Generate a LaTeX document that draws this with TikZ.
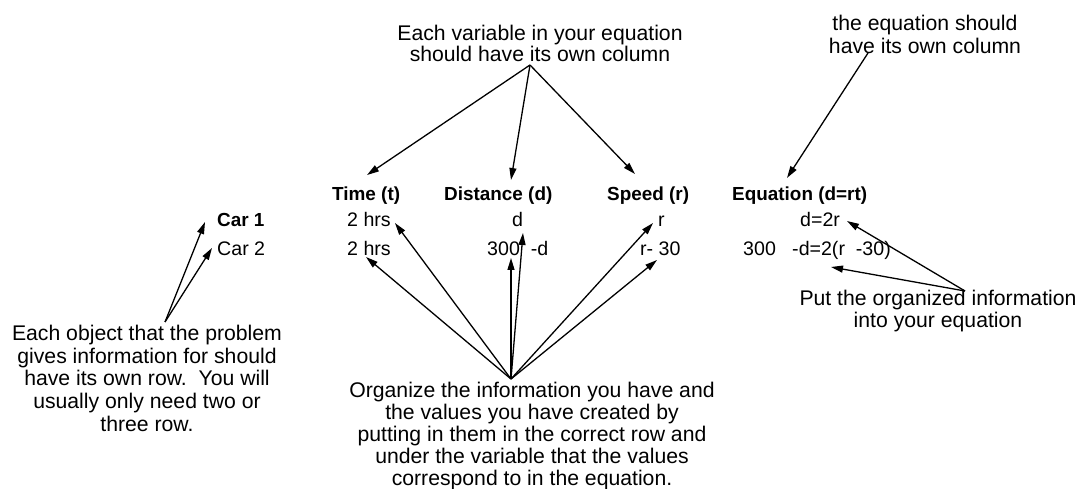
\documentclass[tikz,border=0pt]{standalone}
\usepackage{fontspec}
\setmainfont{Liberation Sans}
\usetikzlibrary{arrows.meta}
\tikzset{
  note/.style={inner sep=0pt, align=center, anchor=north, font=\fontsize{21.2}{22.5}\selectfont},
  head/.style={inner sep=0pt, anchor=base west, font=\fontsize{18.9}{22}\selectfont\bfseries},
  cell/.style={inner sep=0pt, anchor=base west, font=\fontsize{19.6}{22}\selectfont},
  arr/.style={line width=1.3pt, -{Triangle[length=12pt,width=7pt]}}
}
\begin{document}
\begin{tikzpicture}[x=1pt,y=-1pt]
\useasboundingbox (0,0) rectangle (1082,489);
% annotations
\node[note, font=\fontsize{21.2}{21}\selectfont] (ncol) at (540,25) {Each variable in your equation\\should have its own column};
\node[note, font=\fontsize{21.2}{23}\selectfont] (neq) at (925,15) {the equation should\\have its own column};
\node[note, font=\fontsize{21.2}{22.7}\selectfont] (nrow) at (147,325) {Each object that the problem\\gives information for should\\have its own row.\ \ You will\\usually only need two or\\three row.};
\node[note, font=\fontsize{21.2}{22}\selectfont] (norg) at (532,382) {Organize the information you have and\\the values you have created by\\putting in them in the correct row and\\under the variable that the values\\correspond to in the equation.};
\node[note, font=\fontsize{21.2}{21.5}\selectfont] (nput) at (938,290) {Put the organized information\\into your equation};
% headers
\node[head] (htime) at (332,201) {Time (t)};
\node[head] (hdist) at (444,201) {Distance (d)};
\node[head] (hspeed) at (607,201) {Speed (r)};
\node[head] (heqn) at (732,201) {Equation (d=rt)};
% rows
\node[cell, font=\fontsize{18.9}{22}\selectfont\bfseries] (car1) at (217,227) {Car 1};
\node[cell] (car2) at (217,255) {Car 2};
\node[cell] (t1) at (347,227) {2 hrs};
\node[cell] (t2) at (347,255) {2 hrs};
\node[cell] (d1) at (512,227) {d};
\node[cell] (d2) at (487,255) {300\ \ -d};
\node[cell] (r1) at (658,227) {r};
\node[cell] (r2) at (640,255) {r- 30};
\node[cell] (e1) at (800,227) {d=2r};
\node[cell] (e2) at (743,255) {300\ \ \ -d=2(r\ \ -30)};
% connector end points
\coordinate (ocol) at (530,65);
\coordinate (oeq) at (868,53);
\coordinate (orow) at (165,322);
\coordinate (oorg) at (511,379);
\coordinate (oput) at (965,291);
\coordinate (ptime) at (367,175);
\coordinate (pdist) at (511,180);
\coordinate (pspeed) at (635,174);
\coordinate (peqn) at (787,178);
\coordinate (pcar1) at (205,222);
\coordinate (pcar2) at (212,248);
\coordinate (pt1) at (395,223);
\coordinate (pt2) at (366,257);
\coordinate (pd2a) at (511,258);
\coordinate (pd2b) at (523,233);
\coordinate (pr1) at (653,223);
\coordinate (pr2) at (657,260);
\coordinate (pe1) at (847,221);
\coordinate (pe2) at (831,267);
% connectors
\draw[arr] (ocol) -- (ptime);
\draw[arr] (ocol) -- (pdist);
\draw[arr] (ocol) -- (pspeed);
\draw[arr] (oeq) -- (peqn);
\draw[arr] (orow) -- (pcar1);
\draw[arr] (orow) -- (pcar2);
\draw[arr] (oorg) -- (pt1);
\draw[arr] (oorg) -- (pt2);
\draw[arr] (oorg) -- (pd2a);
\draw[arr] (oorg) -- (pd2b);
\draw[arr] (oorg) -- (pr1);
\draw[arr] (oorg) -- (pr2);
\draw[arr] (oput) -- (pe1);
\draw[arr] (oput) -- (pe2);
\end{tikzpicture}
\end{document}
